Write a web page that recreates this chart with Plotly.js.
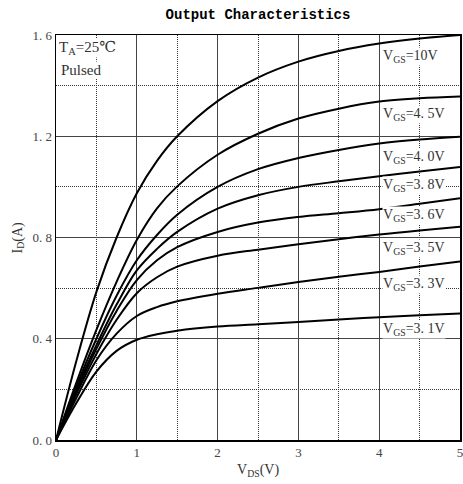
<!DOCTYPE html>
<html>
<head>
<meta charset="utf-8">
<script src="https://cdn.plot.ly/plotly-3.0.1.min.js"></script>
<style>html,body{margin:0;padding:0;background:#fff;}#chart{width:463px;height:484px;}</style>
</head>
<body>
<div id="chart"></div>
<script>
// V_DS sample points (V)
const vds = [0, 0.25, 0.5, 0.75, 1, 1.25, 1.5, 2, 2.5, 3, 3.5, 4, 4.5, 5];
// I_D (A) for each V_GS curve
const id_10V  = [0, 0.31, 0.585, 0.80, 0.975, 1.103, 1.20, 1.339, 1.432, 1.495, 1.537, 1.566, 1.586, 1.60];
const id_4p5V = [0, 0.225, 0.435, 0.625, 0.79, 0.915, 1.002, 1.127, 1.21, 1.27, 1.309, 1.337, 1.35, 1.357];
const id_4p0V = [0, 0.21, 0.40, 0.57, 0.71, 0.81, 0.89, 1.0, 1.07, 1.114, 1.146, 1.171, 1.187, 1.198];
const id_3p8V = [0, 0.20, 0.375, 0.535, 0.67, 0.755, 0.822, 0.914, 0.967, 1.00, 1.022, 1.042, 1.061, 1.079];
const id_3p6V = [0, 0.19, 0.36, 0.51, 0.632, 0.71, 0.762, 0.822, 0.859, 0.881, 0.896, 0.912, 0.933, 0.955];
const id_3p5V = [0, 0.18, 0.34, 0.475, 0.58, 0.643, 0.685, 0.728, 0.752, 0.773, 0.793, 0.812, 0.828, 0.842];
const id_3p3V = [0, 0.165, 0.315, 0.42, 0.49, 0.525, 0.548, 0.578, 0.601, 0.624, 0.645, 0.664, 0.685, 0.705];
const id_3p1V = [0, 0.145, 0.27, 0.352, 0.396, 0.418, 0.432, 0.448, 0.457, 0.466, 0.476, 0.485, 0.493, 0.50];

const seriesList = [id_10V, id_4p5V, id_4p0V, id_3p8V, id_3p6V, id_3p5V, id_3p3V, id_3p1V];
const seriesNames = ["V<sub>GS</sub>=10V", "V<sub>GS</sub>=4. 5V", "V<sub>GS</sub>=4. 0V", "V<sub>GS</sub>=3. 8V",
                     "V<sub>GS</sub>=3. 6V", "V<sub>GS</sub>=3. 5V", "V<sub>GS</sub>=3. 3V", "V<sub>GS</sub>=3. 1V"];
// label anchor (V, A) for each curve label
const labelX = [4.035, 4.035, 4.035, 4.035, 4.035, 4.035, 4.035, 4.035];
const labelY = [1.515, 1.285, 1.117, 1.005, 0.885, 0.758, 0.616, 0.436];

const xTicks = [0, 1, 2, 3, 4, 5];
const xTickText = ["0", "1", "2", "3", "4", "5"];
const yTicks = [0, 0.4, 0.8, 1.2, 1.6];
const yTickText = ["0. 0", "0. 4", "0. 8", "1. 2", "1. 6"];
const xMinor = [0.5, 1.5, 2.5, 3.5, 4.5];
const yMinor = [0.2, 0.6, 1.0, 1.4];

const serif = "Liberation Serif, DejaVu Serif, serif";

const traces = seriesList.map((ys, i) => ({
  x: vds, y: ys, type: "scatter", mode: "lines", name: seriesNames[i],
  line: {color: "#000", width: 2, shape: "spline", smoothing: 1},
  hoverinfo: "skip", showlegend: false
}));

const annotations = seriesNames.map((t, i) => ({
  text: t, x: labelX[i], y: labelY[i], xref: "x", yref: "y",
  xanchor: "left", yanchor: "middle", showarrow: false,
  bgcolor: "#fff", borderpad: 0,
  font: {family: serif, size: 14, color: "#333"}
}));

annotations.push(
  {text: "T<sub>A</sub>=25℃", xref: "paper", yref: "paper", x: 0, y: 1, xshift: 2, yshift: -3,
   xanchor: "left", yanchor: "top", showarrow: false, bgcolor: "#fff", borderpad: 0,
   font: {family: serif, size: 15, color: "#333"}},
  {text: "Pulsed", xref: "paper", yref: "paper", x: 0, y: 1, xshift: 4, yshift: -26,
   xanchor: "left", yanchor: "top", showarrow: false, bgcolor: "#fff", borderpad: 0,
   font: {family: serif, size: 15, color: "#333"}},
  {text: "I<sub>D</sub>(A)", xref: "paper", yref: "paper", x: 0, y: 0.5, xshift: -38,
   xanchor: "center", yanchor: "middle", textangle: -90, showarrow: false,
   font: {family: serif, size: 14, color: "#333"}},
  {text: "V<sub>DS</sub>(V)", xref: "paper", yref: "paper", x: 0.5, y: 0, yshift: -30,
   xanchor: "center", yanchor: "middle", showarrow: false,
   font: {family: serif, size: 14, color: "#333"}}
);

const layout = {
  width: 463, height: 484,
  margin: {l: 56, r: 3, t: 35, b: 44},
  paper_bgcolor: "#fff", plot_bgcolor: "#fff",
  title: {text: "<b>Output Characteristics</b>", x: 258/463, xanchor: "center",
          y: 1 - 14/484, yanchor: "middle", yref: "container",
          font: {family: "Liberation Mono, DejaVu Sans Mono, monospace", size: 14, color: "#000"}},
  xaxis: {range: [0, 5], tickvals: xTicks, ticktext: xTickText, showgrid: true,
          gridcolor: "#444", gridwidth: 1, zeroline: false, showline: true, mirror: true,
          linecolor: "#000", linewidth: 1.5, ticks: "", automargin: false,
          ticklabeloverflow: "allow",
          tickfont: {family: serif, size: 13, color: "#444"},
          minor: {tickvals: xMinor, showgrid: true, gridcolor: "#333",
                  griddash: "1px,1px", gridwidth: 1, ticks: ""}},
  yaxis: {range: [0, 1.6], tickvals: yTicks, ticktext: yTickText, showgrid: true,
          gridcolor: "#444", gridwidth: 1, zeroline: false, showline: true, mirror: true,
          linecolor: "#000", linewidth: 1.5, ticks: "", automargin: false,
          ticklabeloverflow: "allow",
          tickfont: {family: serif, size: 13, color: "#444"},
          minor: {tickvals: yMinor, showgrid: true, gridcolor: "#333",
                  griddash: "1px,1px", gridwidth: 1, ticks: ""}},
  annotations: annotations
};

Plotly.newPlot("chart", traces, layout, {staticPlot: true, displayModeBar: false});
</script>
</body>
</html>
